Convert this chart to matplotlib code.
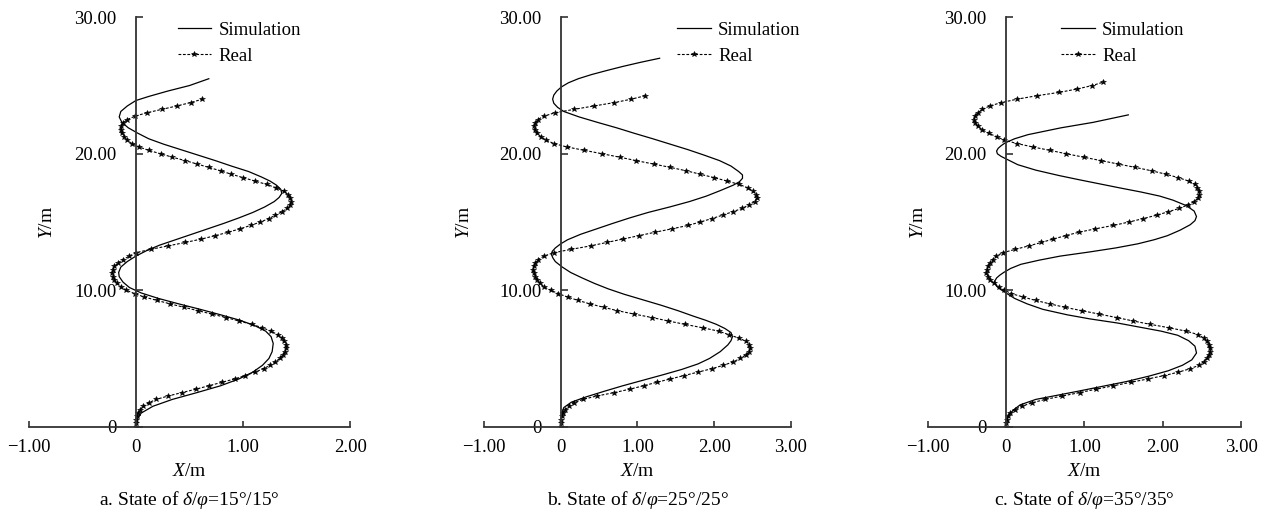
import numpy as np
import matplotlib
matplotlib.use("Agg")
import matplotlib.pyplot as plt

plt.rcParams['font.family'] = ['Liberation Serif', 'DejaVu Serif']
plt.rcParams['mathtext.fontset'] = 'custom'
plt.rcParams['mathtext.rm'] = 'Liberation Serif'
plt.rcParams['mathtext.it'] = 'Liberation Serif:italic'
plt.rcParams['axes.unicode_minus'] = True

# ---- data (X/m vs Y/m) ----
# measured track, sampled every 0.25 m along Y
real_y = [0.0, 0.25, 0.5, 0.75, 1.0, 1.25, 1.5, 1.75, 2.0, 2.25,
          2.5, 2.75, 3.0, 3.25, 3.5, 3.75, 4.0, 4.25, 4.5, 4.75,
          5.0, 5.25, 5.5, 5.75, 6.0, 6.25, 6.5, 6.75, 7.0, 7.25,
          7.5, 7.75, 8.0, 8.25, 8.5, 8.75, 9.0, 9.25, 9.5, 9.75,
          10.0, 10.25, 10.5, 10.75, 11.0, 11.25, 11.5, 11.75, 12.0, 12.25,
          12.5, 12.75, 13.0, 13.25, 13.5, 13.75, 14.0, 14.25, 14.5, 14.75,
          15.0, 15.25, 15.5, 15.75, 16.0, 16.25, 16.5, 16.75, 17.0, 17.25,
          17.5, 17.75, 18.0, 18.25, 18.5, 18.75, 19.0, 19.25, 19.5, 19.75,
          20.0, 20.25, 20.5, 20.75, 21.0, 21.25, 21.5, 21.75, 22.0, 22.25,
          22.5, 22.75, 23.0, 23.25, 23.5, 23.75, 24.0, 24.25, 24.5, 24.75,
          25.0, 25.25]

real_a_x = [0.00, 0.00, 0.005, 0.01, 0.02, 0.04, 0.07, 0.12, 0.19, 0.30,
            0.43, 0.56, 0.68, 0.80, 0.92, 1.02, 1.11, 1.19, 1.25, 1.30,
            1.34, 1.37, 1.39, 1.40, 1.40, 1.385, 1.36, 1.32, 1.26, 1.18,
            1.08, 0.96, 0.84, 0.71, 0.58, 0.45, 0.32, 0.20, 0.08, -0.01,
            -0.09, -0.14, -0.18, -0.20, -0.215, -0.22, -0.215, -0.20, -0.165, -0.12,
            -0.06, 0.00, 0.14, 0.30, 0.46, 0.61, 0.74, 0.86, 0.97, 1.07,
            1.16, 1.24, 1.30, 1.36, 1.41, 1.44, 1.45, 1.44, 1.42, 1.38,
            1.31, 1.22, 1.11, 1.00, 0.89, 0.79, 0.68, 0.57, 0.46, 0.34,
            0.23, 0.12, 0.03, -0.04, -0.08, -0.11, -0.13, -0.14, -0.14, -0.12,
            -0.08, -0.01, 0.10, 0.24, 0.38, 0.51, 0.62]

real_b_x = [0.00, 0.00, 0.01, 0.02, 0.03, 0.06, 0.11, 0.17, 0.29, 0.47,
            0.70, 0.90, 1.08, 1.25, 1.43, 1.61, 1.79, 1.97, 2.12, 2.25,
            2.34, 2.41, 2.46, 2.47, 2.46, 2.42, 2.32, 2.19, 2.06, 1.85,
            1.62, 1.40, 1.19, 0.96, 0.74, 0.56, 0.38, 0.23, 0.09, -0.03,
            -0.13, -0.22, -0.27, -0.31, -0.33, -0.35, -0.36, -0.35, -0.33, -0.29,
            -0.22, -0.09, 0.14, 0.39, 0.60, 0.81, 1.02, 1.23, 1.45, 1.66,
            1.82, 1.97, 2.11, 2.24, 2.37, 2.45, 2.53, 2.56, 2.55, 2.51,
            2.44, 2.33, 2.17, 2.00, 1.82, 1.64, 1.43, 1.21, 0.98, 0.77,
            0.54, 0.31, 0.08, -0.09, -0.19, -0.26, -0.31, -0.34, -0.35, -0.33,
            -0.30, -0.22, -0.08, 0.17, 0.43, 0.70, 0.92, 1.10]

real_c_x = [0.00, 0.00, 0.01, 0.03, 0.05, 0.11, 0.20, 0.33, 0.50, 0.72,
            0.94, 1.15, 1.37, 1.59, 1.81, 2.02, 2.20, 2.35, 2.46, 2.52,
            2.56, 2.59, 2.60, 2.60, 2.59, 2.56, 2.52, 2.45, 2.30, 2.08,
            1.84, 1.62, 1.41, 1.19, 0.97, 0.75, 0.56, 0.38, 0.22, 0.07,
            -0.02, -0.09, -0.15, -0.20, -0.23, -0.25, -0.245, -0.23, -0.20, -0.17,
            -0.13, -0.04, 0.12, 0.29, 0.45, 0.60, 0.76, 0.93, 1.14, 1.37,
            1.57, 1.75, 1.92, 2.07, 2.21, 2.32, 2.40, 2.45, 2.46, 2.46,
            2.44, 2.41, 2.33, 2.20, 2.04, 1.86, 1.65, 1.43, 1.21, 0.99,
            0.77, 0.56, 0.34, 0.14, -0.02, -0.12, -0.22, -0.30, -0.36, -0.39,
            -0.41, -0.40, -0.36, -0.30, -0.21, -0.06, 0.14, 0.39, 0.68, 0.91,
            1.10, 1.24]

# simulated track
sim_a_y = [0, 0.5, 1.0, 1.5, 2.0, 2.5, 3.0, 3.5, 4.0, 4.5,
           5.0, 5.5, 6.1, 6.6, 7.0, 7.4, 7.8, 8.2, 8.6, 9.0,
           9.4, 9.8, 10.2, 10.6, 11.0, 11.3, 11.7, 12.1, 12.5, 12.9,
           13.3, 13.7, 14.1, 14.5, 14.9, 15.3, 15.7, 16.1, 16.5, 16.8,
           17.1, 17.4, 17.7, 18.0, 18.3, 18.7, 19.1, 19.5, 19.9, 20.3,
           20.7, 21.1, 21.5, 21.9, 22.3, 22.7, 23.1, 23.5, 23.9, 24.2,
           24.6, 25.0, 25.5]
sim_a_x = [0, 0.01, 0.05, 0.16, 0.34, 0.57, 0.79, 0.96, 1.09, 1.18,
           1.24, 1.27, 1.28, 1.26, 1.21, 1.11, 0.97, 0.79, 0.60, 0.40,
           0.21, 0.05, -0.06, -0.12, -0.155, -0.16, -0.14, -0.08, 0.0, 0.10,
           0.22, 0.37, 0.52, 0.67, 0.82, 0.96, 1.09, 1.20, 1.29, 1.335,
           1.36, 1.35, 1.31, 1.25, 1.17, 1.05, 0.89, 0.74, 0.58, 0.42,
           0.26, 0.12, 0.02, -0.07, -0.13, -0.155, -0.14, -0.08, 0.0, 0.12,
           0.30, 0.50, 0.68]

sim_b_y = [0, 0.5, 1.0, 1.4, 1.8, 2.2, 2.6, 3.0, 3.4, 3.8,
           4.2, 4.6, 5.0, 5.5, 6.0, 6.3, 6.6, 6.9, 7.2, 7.5,
           7.8, 8.1, 8.5, 8.9, 9.3, 9.7, 10.1, 10.5, 10.9, 11.3,
           11.7, 12.1, 12.35, 12.6, 12.85, 13.1, 13.4, 13.7, 14.1, 14.5,
           14.9, 15.3, 15.7, 16.1, 16.5, 16.9, 17.3, 17.7, 17.95, 18.2,
           18.45, 18.7, 19.1, 19.5, 19.9, 20.3, 20.7, 21.1, 21.5, 21.9,
           22.3, 22.7, 23.1, 23.4, 23.7, 24.0, 24.3, 24.6, 24.9, 25.2,
           25.5, 25.8, 26.1, 26.4, 26.7, 27.0]
sim_b_x = [0, 0.005, 0.015, 0.04, 0.14, 0.34, 0.57, 0.81, 1.07, 1.33,
           1.58, 1.79, 1.94, 2.08, 2.18, 2.22, 2.24, 2.22, 2.14, 2.03,
           1.89, 1.73, 1.53, 1.31, 1.07, 0.83, 0.62, 0.44, 0.28, 0.13,
           0.02, -0.07, -0.10, -0.12, -0.11, -0.07, 0.0, 0.09, 0.26, 0.47,
           0.68, 0.90, 1.14, 1.42, 1.68, 1.90, 2.08, 2.25, 2.33, 2.37,
           2.37, 2.32, 2.22, 2.07, 1.87, 1.66, 1.43, 1.20, 0.96, 0.73,
           0.48, 0.24, 0.04, -0.04, -0.09, -0.105, -0.09, -0.05, 0.01, 0.10,
           0.23, 0.40, 0.60, 0.81, 1.04, 1.29]

sim_c_y = [0, 0.4, 0.8, 1.2, 1.6, 2.0, 2.3, 2.6, 2.9, 3.3,
           3.7, 4.1, 4.5, 4.9, 5.4, 5.9, 6.3, 6.7, 7.0, 7.3,
           7.6, 7.9, 8.2, 8.6, 9.0, 9.4, 9.8, 10.1, 10.3, 10.5,
           10.7, 10.9, 11.1, 11.3, 11.6, 11.9, 12.2, 12.5, 12.8, 13.1,
           13.4, 13.7, 14.0, 14.4, 14.8, 15.1, 15.4, 15.8, 16.2, 16.6,
           16.9, 17.2, 17.5, 17.8, 18.1, 18.4, 18.8, 19.2, 19.6, 19.8,
           20.0, 20.2, 20.4, 20.6, 20.8, 21.1, 21.4, 21.9, 22.3, 22.85]
sim_c_x = [0, 0.005, 0.03, 0.09, 0.18, 0.38, 0.65, 0.92, 1.18, 1.53,
           1.82, 2.07, 2.25, 2.37, 2.43, 2.41, 2.33, 2.19, 1.98, 1.70,
           1.42, 1.07, 0.78, 0.47, 0.27, 0.11, 0.0, -0.08, -0.12, -0.14,
           -0.14, -0.12, -0.08, -0.03, 0.06, 0.19, 0.42, 0.69, 1.06, 1.40,
           1.68, 1.89, 2.06, 2.22, 2.35, 2.41, 2.43, 2.40, 2.30, 2.13,
           1.96, 1.72, 1.45, 1.19, 0.93, 0.68, 0.38, 0.15, 0.01, -0.06,
           -0.11, -0.12, -0.10, -0.06, -0.01, 0.11, 0.28, 0.70, 1.11, 1.56]

captions = ['a. State of $\\delta/\\varphi$=15°/15°',
            'b. State of $\\delta/\\varphi$=25°/25°',
            'c. State of $\\delta/\\varphi$=35°/35°']
x_max = [2, 3, 3]
y_ticks = [0, 10, 20, 30]
y_tick_labels = ['0', '10.00', '20.00', '30.00']

# ---- layout (pixel positions in the 1266x520 picture) ----
W, H = 1266, 520
ax_px = [(28.5, 350.5), (484.0, 790.8), (927.6, 1241.2)]
legend_fx = [0.463, 0.629, 0.425]
ylabel_x = [-0.82, -1.25, -1.12]

fig = plt.figure(figsize=(W / 100, H / 100), dpi=100)

panels = [(sim_a_x, sim_a_y, real_a_x),
          (sim_b_x, sim_b_y, real_b_x),
          (sim_c_x, sim_c_y, real_c_x)]

for i, (sx, sy, rx) in enumerate(panels):
    x0, x1 = ax_px[i]
    ax = fig.add_axes([x0 / W, (H - 426.7) / H, (x1 - x0) / W, 409.4 / H])

    ax.plot(sx, sy, color='black', lw=0.9, label='Simulation')
    ax.plot(rx, real_y[:len(rx)], color='black', lw=0.8, ls=(0, (2.5, 1.5)),
            marker='*', ms=4.2, mew=0.4, label='Real')

    ax.set_xlim(-1, x_max[i])
    ax.set_ylim(0, 30)

    ax.spines['left'].set_position(('data', 0))
    ax.spines['right'].set_visible(False)
    ax.spines['top'].set_visible(False)
    for s in ('left', 'bottom'):
        ax.spines[s].set_color('#333333')
        ax.spines[s].set_linewidth(1.3)

    xt = list(range(-1, x_max[i] + 1))
    ax.set_xticks(xt)
    ax.set_xticklabels(['0' if v == 0 else f'{v:.2f}'.replace('-', '\u2212') for v in xt])
    ax.set_yticks(y_ticks)
    ax.set_yticklabels(y_tick_labels)
    ax.tick_params(axis='x', direction='in', length=4, width=1.2, pad=9,
                   labelsize=13.5, colors='#333333', labelcolor='black')
    ax.tick_params(axis='y', direction='in', length=5, width=1.2, pad=14,
                   labelsize=13.5, colors='#333333', labelcolor='black')

    ax.text(0.5, -0.11, '$X$/m', transform=ax.transAxes, ha='center', va='center',
            fontsize=14)
    ax.text(ylabel_x[i], 15, '$Y$/m', rotation=90, ha='center', va='center',
            fontsize=14, clip_on=False)
    ax.text(0.5, -0.178, captions[i], transform=ax.transAxes, ha='center',
            va='center', fontsize=14)

    ax.legend(loc='upper left', bbox_to_anchor=(legend_fx[i], 0.99), frameon=False,
              borderpad=0, borderaxespad=0, handlelength=1.8, handletextpad=0.4,
              labelspacing=0.5, fontsize=13.5)

fig.savefig('out.png', dpi=100)
